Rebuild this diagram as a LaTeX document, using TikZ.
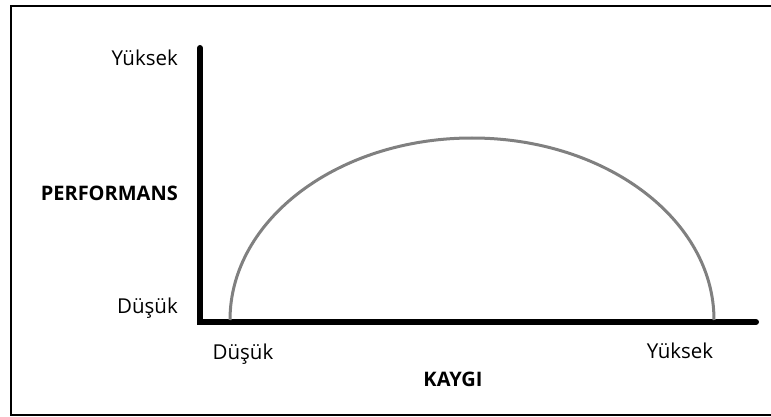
\documentclass[tikz,border=0pt]{standalone}
\usepackage{fontspec}
\setmainfont{Open Sans}
\usetikzlibrary{positioning}

\begin{document}
\begin{tikzpicture}[x=1pt, y=-1pt,
  axis/.style={line width=6pt, line cap=round},
  curve/.style={line width=3pt, draw=gray},
  lbl/.style={font=\fontsize{20.5}{22}\selectfont, inner sep=0pt},
  ttl/.style={font=\fontsize{20}{22}\selectfont\bfseries, inner sep=0pt}]
\useasboundingbox (0,0) rectangle (771,417);
\draw[line width=2pt] (783,6) -- (11,6) -- (11,415) -- (783,415);
% axes
\coordinate (origin) at (200,322);
\coordinate (ytop) at (200,48);
\coordinate (xend) at (756,322);
\draw[axis] (ytop) -- (origin) -- (xend);
% curve
\coordinate (cstart) at (230,320);
\coordinate (cend) at (714,320);
\draw[curve] (cstart) arc[start angle=180, end angle=0, x radius=242, y radius=-182];
% labels
\node[lbl, anchor=base east] (yhigh) at (178,66) {Yüksek};
\node[ttl, anchor=base east] (perf) at (178,200) {PERFORMANS};
\node[lbl, anchor=base east] (ylow) at (178,313) {Düşük};
\node[lbl, anchor=base] (xlow) at (243,359) {Düşük};
\node[lbl, anchor=base] (xhigh) at (680,358) {Yüksek};
\node[ttl, anchor=base] (kaygi) at (453,386) {KAYGI};
\end{tikzpicture}
\end{document}
